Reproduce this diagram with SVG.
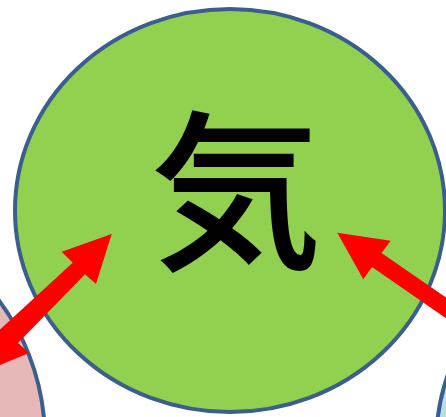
<svg xmlns="http://www.w3.org/2000/svg" width="446" height="417" viewBox="0 0 446 417">
<style>
.node{stroke:#3B5E8C;stroke-width:4}
.arrow{fill:#FF0000;stroke:none}
.label{font-family:"Noto Sans CJK JP","Noto Sans CJK SC",sans-serif;font-weight:500;fill:#000}
</style>
<rect width="446" height="417" fill="#FFFFFF"/>
<g id="node-pink">
<circle class="node" cx="-189" cy="440" r="234" fill="#E6B9B8"/>
</g>
<g id="node-blue">
<circle class="node" cx="651" cy="445" r="215" fill="#B7DEE8"/>
</g>
<g id="node-ki">
<ellipse class="node" cx="230" cy="210.5" rx="215" ry="201.5" fill="#92D050"/>
<text class="label" x="236" y="256" font-size="172" text-anchor="middle">気</text>
</g>
<g id="connectors">
<polygon class="arrow" points="111.7,234 96,284 85,274.3 18,343 29,353 -12,370 -36,386 -20,340 -5,334 72.7,262.7 61.7,251.7"/>
<polygon class="arrow" points="337.3,232.7 390.7,240.7 381.5,253 480,321 470,335 372,267 363.3,279.3"/>
</g>
</svg>
